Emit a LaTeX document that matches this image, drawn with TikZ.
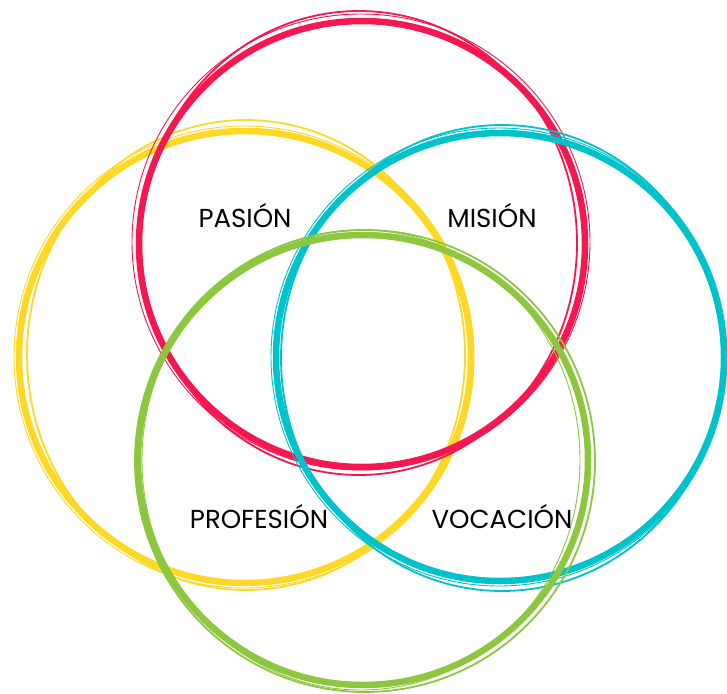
\documentclass[tikz,border=0pt]{standalone}
\usepackage{fontspec}
\setmainfont{Poppins}
\definecolor{cred}{HTML}{F5174F}
\definecolor{cyel}{HTML}{FDD826}
\definecolor{ccya}{HTML}{00C2CB}
\definecolor{cgrn}{HTML}{8DC63F}
\begin{document}
\begin{tikzpicture}[x=1pt,y=-1pt,
  thick ring/.style={line width=6.5pt},
  thin ring/.style={line width=1.8pt},
  hair ring/.style={line width=0.9pt},
  lbl/.style={font=\fontsize{26}{26}\selectfont, text=black, inner sep=0pt}]
\useasboundingbox (0,0) rectangle (727,693);
% yellow
\draw[cyel, thick ring] (245,357) circle[radius=226];
\draw[cyel, thin ring] (246,355) ellipse[x radius=219, y radius=235];
\draw[cyel, hair ring] (244,357) ellipse[x radius=230, y radius=231];
% red
\draw[cred, thick ring] (362,244) circle[radius=223];
\draw[cred, thin ring] (359,243) ellipse[x radius=218, y radius=232];
\draw[cred, hair ring] (361,242) ellipse[x radius=229, y radius=228];
% cyan
\draw[ccya, thick ring] (500,357) circle[radius=224];
\draw[ccya, thin ring] (502,358) ellipse[x radius=221, y radius=233];
\draw[ccya, hair ring] (499,357) ellipse[x radius=228, y radius=229];
% green
\draw[cgrn, thick ring] (363,460) circle[radius=225];
\draw[cgrn, thin ring] (365,461) ellipse[x radius=230, y radius=231];
\draw[cgrn, hair ring] (361,460) ellipse[x radius=219, y radius=230];
% labels
\node[lbl] (pasion) at (245,216) {PASIÓN};
\node[lbl] (mision) at (492,216) {MISIÓN};
\node[lbl] (profesion) at (259,517) {PROFESIÓN};
\node[lbl] (vocacion) at (502,517) {VOCACIÓN};
\end{tikzpicture}
\end{document}
